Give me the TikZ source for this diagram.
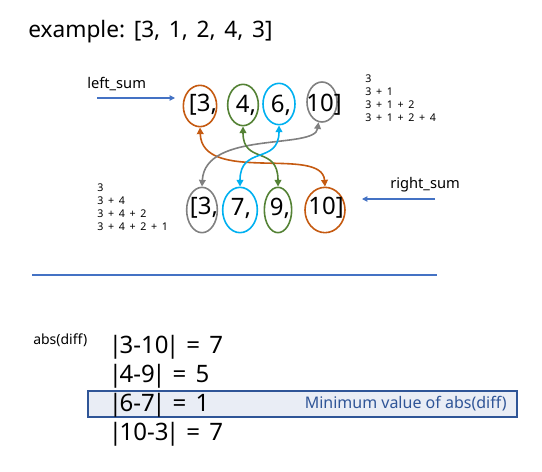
\documentclass[tikz,border=0pt]{standalone}
\usepackage{fontspec}
\setmainfont{Noto Sans}
\usetikzlibrary{arrows.meta,shapes.geometric}
\definecolor{orng}{HTML}{C55A11}
\definecolor{grn}{HTML}{548235}
\definecolor{cyn}{HTML}{00B0F0}
\definecolor{gry}{HTML}{808080}
\definecolor{blu}{HTML}{4472C4}
\definecolor{dblu}{HTML}{2F5597}
\definecolor{boxfill}{HTML}{E9EDF5}
\newcommand\pls{\hspace{3.5pt}+\hspace{3.5pt}}
\newcommand\vb{\kern-1.8pt|\kern-1.8pt}
\newcommand\gap{\hspace{6.5pt}}
\newcommand\eqs{\hspace{7pt}=\hspace{7pt}}

\begin{document}
\begin{tikzpicture}[x=0.75pt,y=-0.75pt,
  ring/.style={ellipse,draw=#1,line width=1.2pt,inner sep=0pt},
  big/.style={font=\fontsize{18}{22}\selectfont,inner sep=0pt},
  note/.style={font=\fontsize{8}{9.75}\selectfont,align=left,anchor=west,inner sep=0pt},
  label/.style={font=\fontsize{11}{13}\selectfont,anchor=west,inner sep=0pt},
  link/.style={draw=#1,line width=1.2pt,{Triangle[length=5pt,width=5pt]}-{Triangle[length=5pt,width=5pt]}},
  ptr/.style={blu,line width=0.8pt,-{Triangle[length=4pt,width=4pt]}}]
\useasboundingbox (0,0) rectangle (542,471);

\node[anchor=west,inner sep=0pt,font=\fontsize{17}{20}\selectfont] (title) at (28,32) {example:\gap[3,\gap1,\gap2,\gap4,\gap3]};

% left_sum row
\node[ring=orng,minimum width=25pt,minimum height=31pt] (u1) at (200,106) {};
\node[ring=grn,minimum width=23pt,minimum height=31pt] (u2) at (243,105) {};
\node[ring=cyn,minimum width=24pt,minimum height=31pt] (u3) at (279,104) {};
\node[ring=gry,minimum width=22.5pt,minimum height=30pt] (u4) at (322,102) {};
\node[big] (un1) at (203,105) {[3,};
\node[big] (un2) at (246,105) {4,};
\node[big] (un3) at (281,105) {6,};
\node[big] (un4) at (324,105) {10]};

% right_sum row
\node[ring=gry,minimum width=23pt,minimum height=34pt] (d1) at (202,210) {};
\node[ring=cyn,minimum width=26pt,minimum height=34pt] (d2) at (240,210) {};
\node[ring=grn,minimum width=20.5pt,minimum height=34pt] (d3) at (278,210) {};
\node[ring=orng,minimum width=30pt,minimum height=34pt] (d4) at (325,210) {};
\node[big] (dn1) at (204,208) {[3,};
\node[big] (dn2) at (241,208) {7,};
\node[big] (dn3) at (280,208) {9,};
\node[big] (dn4) at (326,208) {10]};

\draw[link=orng] (u1.south) .. controls (202,185) and (322,145) .. (d4.north);
\draw[link=gry] (u4.-100) .. controls (315,150) and (205,130) .. (d1.north);
\draw[link=grn] (u2.south) .. controls (243,165) and (278,145) .. (d3.north);
\draw[link=cyn] (u3.south) .. controls (279,165) and (240,145) .. (d2.north);

\node[label] (lsum) at (87,84) {left\_sum};
\coordinate (lsa) at (97,98);
\coordinate (lsb) at (175,98);
\draw[ptr] (lsa) -- (lsb);
\node[label] (rsum) at (390,185) {right\_sum};
\coordinate (rsa) at (435,199);
\coordinate (rsb) at (362,199);
\draw[ptr] (rsa) -- (rsb);

\node[note] (lsteps) at (365,98.5) {3\\3\pls1\\3\pls1\pls2\\3\pls1\pls2\pls4};
\node[note] (rsteps) at (97,207.5) {3\\3\pls4\\3\pls4\pls2\\3\pls4\pls2\pls1};

\draw[blu,line width=0.8pt] (32,275) -- (437,275);

% differences
\draw[dblu,fill=boxfill,line width=0.8pt] (88,391) rectangle (517,417);
\node[label,font=\fontsize{10.5}{12}\selectfont] (absl) at (33,340) {abs(diff)};
\node[big,anchor=west] (r1) at (111,347) {\vb3-10\vb\eqs7};
\node[big,anchor=west] (r2) at (111,376) {\vb4-9\vb\eqs5};
\node[big,anchor=west] (r3) at (111,405) {\vb6-7\vb\eqs1};
\node[big,anchor=west] (r4) at (111,434) {\vb10-3\vb\eqs7};
\node[anchor=east,inner sep=0pt,text=dblu,font=\fontsize{12}{14}\selectfont] (minv) at (507,404) {Minimum value of abs(diff)};
\end{tikzpicture}
\end{document}
